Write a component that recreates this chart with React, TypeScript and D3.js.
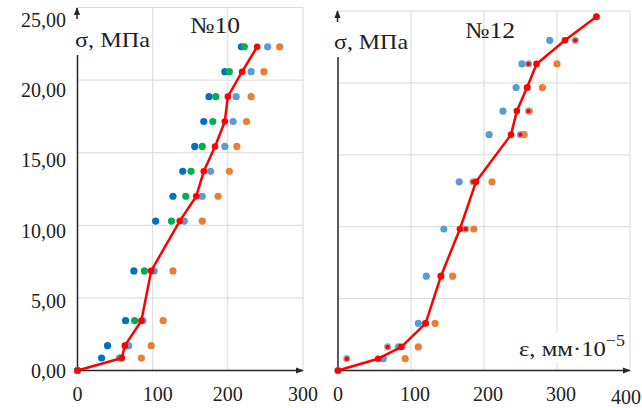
import React from "react";
import * as d3 from "d3";

// ---------- data ----------
const L_STRESS = [0, 0.86, 1.71, 3.43, 6.86, 10.29, 12.0, 13.72, 15.43, 17.15, 18.86, 20.58, 22.29];
const L_DARKBLUE = [0, 32, 40, 64, 75, 104, 127, 140, 156, 168, 175, 196, 218];
const L_GREEN = [0, 56, 65, 76, 89, 125, 144, 151, 166, 180, 184, 202, 222];
const L_LIGHTBLUE = [0, 57, 68, 87, 102, 142, 166, 177, 196, 207, 211, 231, 253];
const L_ORANGE = [0, 85, 98, 114, 127, 166, 187, 202, 212, 225, 231, 248, 269];
const L_RED = [0, 59, 63, 85, 98, 136, 158, 168, 183, 196, 200, 219, 239];

const R_STRESS = [0, 0.82, 1.64, 3.28, 6.56, 9.84, 13.12, 16.4, 18.04, 19.68, 21.32, 22.96, 24.6];
const R_LIGHTBLUE = [0, 62, 83, 110, 121, 145, 166, 207, 226, 244, 252, 290, 354];
const R_ORANGE: (number | null)[] = [null, 92, 110, 133, 157, 186, 211, 255, 262, 280, 300, null, null];
const R_GRAYRED = [0, 12, 68, 120, 141, 175, 185, 250, 261, 260, 261, 325, 354];
const R_RED = [0, 55, 87, 120, 141, 167, 189, 237, 245, 259, 272, 311, 354];

const Y_TICKS = [0, 5, 10, 15, 20, 25];
const Y_TICK_LABELS = ["0,00", "5,00", "10,00", "15,00", "20,00", "25,00"];
const L_X_TICKS = [0, 100, 200, 300];
const R_X_TICKS = [0, 100, 200, 300, 400];

const C_DARKBLUE = "#0070C0";
const C_GREEN = "#00B050";
const C_LIGHTBLUE = "#5B9BD5";
const C_ORANGE = "#ED7D31";
const C_RED = "#FF0000";
const C_GRAY = "#A5A5A5";
const GRID = "#D9D9D9";
const AXIS = "#262626";
const FONT = "'Liberation Serif', 'Times New Roman', serif";

type Pt = { x: number; y: number };
const zipPts = (xs: (number | null)[], ys: number[]): Pt[] =>
  xs.map((x, i) => (x == null ? null : { x, y: ys[i] })).filter((p): p is Pt => p !== null);

export default function App() {
  // Left panel scales
  const lx = d3.scaleLinear().domain([0, 300]).range([77.5, 303]);
  const ly = d3.scaleLinear().domain([0, 25]).range([370.5, 7.5]);
  const lLabelY = d3.scaleLinear().domain([0, 25]).range([371, 20]);
  // Right panel scales
  const rx = d3.scaleLinear().domain([0, 400]).range([338, 630]);
  const ry = d3.scaleLinear().domain([0, 25]).range([370.5, 11]);

  const lLine = d3.line<Pt>().x((d) => lx(d.x)).y((d) => ly(d.y));
  const rLine = d3.line<Pt>().x((d) => rx(d.x)).y((d) => ry(d.y));

  const dots = (pts: Pt[], sx: any, sy: any, color: string, r = 3.6) =>
    pts.map((p, i) => <circle key={i} cx={sx(p.x)} cy={sy(p.y)} r={r} fill={color} />);

  const lRed = zipPts(L_RED, L_STRESS);
  const rRed = zipPts(R_RED, R_STRESS);

  return (
    <svg width={642} height={408} style={{ position: "absolute", left: 0, top: 0, background: "#fff" }}>
      <defs>
        <marker id="arr" viewBox="0 0 10 10" refX="9" refY="5" markerWidth="8" markerHeight="8" orient="auto" markerUnits="userSpaceOnUse">
          <path d="M0,1 L10,5 L0,9 Z" fill={AXIS} />
        </marker>
      </defs>
      <rect x={0} y={0} width={642} height={408} fill="#fff" />

      {/* ===== LEFT PANEL ===== */}
      <g>
        {Y_TICKS.filter((t) => t > 0).map((t) => (
          <line key={t} x1={lx(0)} x2={lx(300)} y1={ly(t)} y2={ly(t)} stroke={GRID} strokeWidth={1} />
        ))}
        {L_X_TICKS.filter((t) => t > 0).map((t) => (
          <line key={t} x1={lx(t)} x2={lx(t)} y1={ly(0)} y2={ly(25)} stroke={GRID} strokeWidth={1} />
        ))}
        {/* y axis */}
        <line x1={lx(0)} x2={lx(0)} y1={ly(0)} y2={55} stroke={AXIS} strokeWidth={1.5} />
        <line x1={lx(0) - 0.5} x2={lx(0) - 0.5} y1={19} y2={8} stroke={AXIS} strokeWidth={1.5} markerEnd="url(#arr)" />
        {/* x axis */}
        <line x1={lx(0)} x2={lx(300)} y1={ly(0)} y2={ly(0)} stroke={AXIS} strokeWidth={1.5} markerEnd="url(#arr)" />

        {Y_TICKS.map((t, i) => (
          <text key={t} x={66} y={lLabelY(t)} dy="0.35em" textAnchor="end" fontFamily={FONT} fontSize={20} fill="#222">
            {Y_TICK_LABELS[i]}
          </text>
        ))}
        {L_X_TICKS.map((t) => (
          <text key={t} x={lx(t) + (t === 100 ? 5 : 0)} y={401} textAnchor="middle" fontFamily={FONT} fontSize={20} fill="#222">
            {t}
          </text>
        ))}
        <text x={75} y={47} fontFamily={FONT} fontSize={22} textLength={75} lengthAdjust="spacingAndGlyphs" fill="#222">σ, МПа</text>
        <text x={190} y={33} fontFamily={FONT} fontSize={23} textLength={50} lengthAdjust="spacingAndGlyphs" fill="#222">№10</text>

        {dots(zipPts(L_ORANGE, L_STRESS), lx, ly, C_ORANGE)}
        {dots(zipPts(L_DARKBLUE, L_STRESS), lx, ly, C_DARKBLUE)}
        {dots(zipPts(L_GREEN, L_STRESS), lx, ly, C_GREEN)}
        {dots(zipPts(L_LIGHTBLUE, L_STRESS), lx, ly, C_LIGHTBLUE)}
        <path d={lLine(lRed) || ""} fill="none" stroke={C_RED} strokeWidth={2.5} strokeLinejoin="round" />
        {dots(lRed, lx, ly, C_RED, 3.3)}
      </g>

      {/* ===== RIGHT PANEL ===== */}
      <g>
        {Y_TICKS.filter((t) => t > 0).map((t) => (
          <line key={t} x1={rx(0)} x2={rx(400)} y1={ry(t)} y2={ry(t)} stroke={GRID} strokeWidth={1} />
        ))}
        {R_X_TICKS.filter((t) => t > 0).map((t) => (
          <line key={t} x1={rx(t)} x2={rx(t)} y1={ry(0)} y2={ry(25)} stroke={GRID} strokeWidth={1} />
        ))}
        {/* x-axis label box */}
        <rect x={517} y={333} width={110} height={29} fill="#fff" />
        <line x1={rx(0)} x2={rx(0)} y1={ry(0)} y2={57} stroke={AXIS} strokeWidth={1.5} />
        <line x1={rx(0) - 0.5} x2={rx(0) - 0.5} y1={22} y2={11} stroke={AXIS} strokeWidth={1.5} markerEnd="url(#arr)" />
        <line x1={rx(0)} x2={rx(400)} y1={ry(0)} y2={ry(0)} stroke={AXIS} strokeWidth={1.5} markerEnd="url(#arr)" />

        {R_X_TICKS.map((t) => (
          <text
            key={t}
            x={t === 400 ? 641 : rx(t) + (t === 0 ? 0 : 4)}
            y={t === 400 ? 404 : 401}
            textAnchor={t === 400 ? "end" : "middle"}
            fontFamily={FONT}
            fontSize={20}
            fill="#222"
          >
            {t}
          </text>
        ))}
        <text x={334} y={49} fontFamily={FONT} fontSize={22} textLength={74} lengthAdjust="spacingAndGlyphs" fill="#222">σ, МПа</text>
        <text x={465} y={38} fontFamily={FONT} fontSize={23} textLength={50} lengthAdjust="spacingAndGlyphs" fill="#222">№12</text>
        <text x={519} y={356} fontFamily={FONT} fontSize={22} textLength={106} lengthAdjust="spacingAndGlyphs" fill="#222">
          ε, мм·10<tspan dy={-10} fontSize={16}>−5</tspan>
        </text>

        {dots(zipPts(R_ORANGE, R_STRESS), rx, ry, C_ORANGE)}
        {dots(zipPts(R_LIGHTBLUE, R_STRESS), rx, ry, C_LIGHTBLUE)}
        {zipPts(R_GRAYRED, R_STRESS).map((p, i) => (
          <g key={i}>
            <circle cx={rx(p.x)} cy={ry(p.y)} r={3.6} fill={C_GRAY} />
            <circle cx={rx(p.x)} cy={ry(p.y)} r={2.2} fill={C_RED} />
          </g>
        ))}
        <path d={rLine(rRed) || ""} fill="none" stroke={C_RED} strokeWidth={2.5} strokeLinejoin="round" />
        {dots(rRed, rx, ry, C_RED, 3.3)}
      </g>
    </svg>
  );
}
